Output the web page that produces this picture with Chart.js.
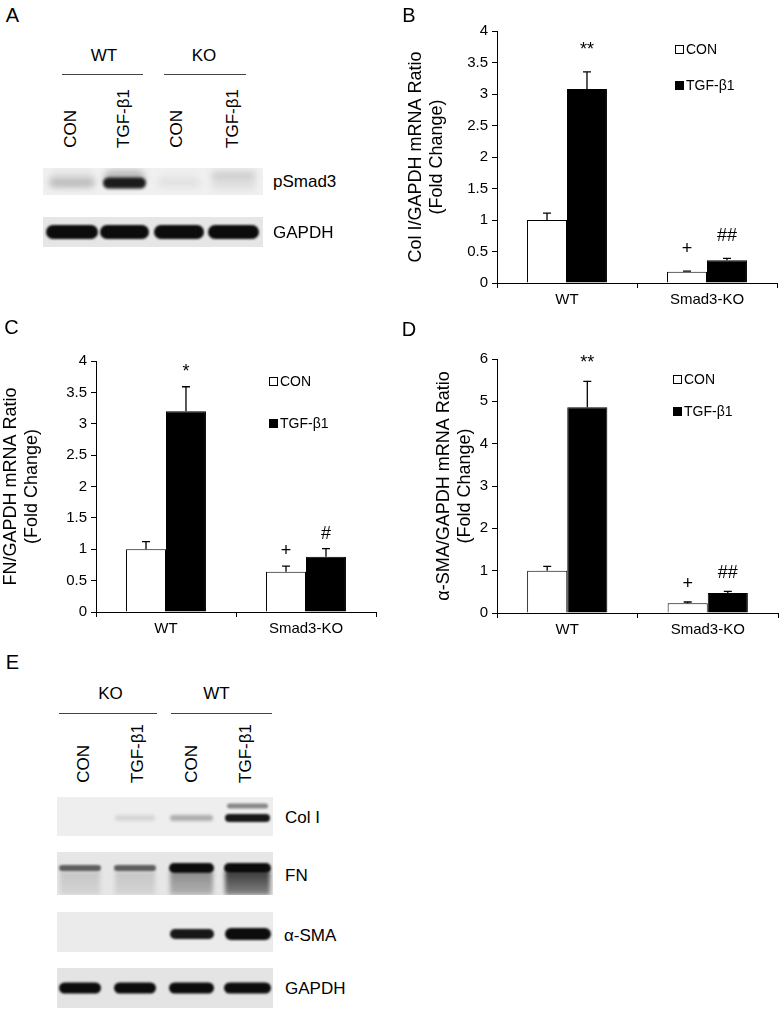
<!DOCTYPE html>
<html>
<head>
<meta charset="utf-8">
<title>Smad3 / TGF-β1 figure</title>
<script src="https://cdn.jsdelivr.net/npm/chart.js@4.4.1/dist/chart.umd.min.js"></script>
<style>
  body { margin: 0; background: #fff; }
  #fig { position: relative; width: 784px; height: 1013px; overflow: hidden; background: #fff;
         font-family: "Liberation Sans", Arial, sans-serif; color: #000; }
  #fig canvas { position: absolute; }
  .t { position: absolute; white-space: nowrap; line-height: 1; }
  .v { position: absolute; white-space: nowrap; line-height: 1; writing-mode: vertical-rl; transform: rotate(180deg); }
  .rule { position: absolute; height: 0; border-top: 1.3px solid #444; }
  .key { position: absolute; display: flex; align-items: center; font-size: 14px; line-height: 1; transform: translateY(-50%); white-space: nowrap; }
  .key i { display: inline-block; width: 9px; height: 9px; box-sizing: border-box; border: 1.5px solid #000; margin-right: 2px; background: #fff; }
  .key i.fill { background: #000; }
</style>
</head>
<body>
<div id="fig">
  <canvas id="chartB" width="394" height="320" style="left:390px;top:0px;width:394px;height:320px"></canvas>
  <canvas id="chartC" width="390" height="335" style="left:0px;top:305px;width:390px;height:335px"></canvas>
  <canvas id="chartD" width="394" height="335" style="left:390px;top:305px;width:394px;height:335px"></canvas>
</div>
<script>
// ---- data ----
const groups = ['WT', 'Smad3-KO'];
const seriesNames = ['CON', 'TGF-β1'];

// B: Col I/GAPDH mRNA
const colICon = [1.0, 0.18];
const colIConErr = [0.11, 0.01];
const colITgf = [3.08, 0.36];
const colITgfErr = [0.27, 0.03];
const colIConMarks = ['', '+'];
const colITgfMarks = ['**', '##'];

// C: FN/GAPDH mRNA
const fnCon = [1.0, 0.64];
const fnConErr = [0.12, 0.09];
const fnTgf = [3.2, 0.88];
const fnTgfErr = [0.39, 0.13];
const fnConMarks = ['', '+'];
const fnTgfMarks = ['*', '#'];

// D: α-SMA/GAPDH mRNA
const smaCon = [1.0, 0.23];
const smaConErr = [0.1, 0.03];
const smaTgf = [4.86, 0.47];
const smaTgfErr = [0.61, 0.04];
const smaConMarks = ['', '+'];
const smaTgfMarks = ['**', '##'];

// western blot band strengths (0 = none, 1 = saturated)
const lanesA = ['CON', 'TGF-β1', 'CON', 'TGF-β1'];
const pSmad3Level = [0.2, 0.92, 0.05, 0.13];
const gapdhLevelA = [1, 1, 1, 1];

const lanesE = ['CON', 'TGF-β1', 'CON', 'TGF-β1'];
const colILevel = [0.0, 0.1, 0.28, 0.95];
const colIUpperLevel = [0.0, 0.0, 0.0, 0.45];
const fnLevel = [0.62, 0.62, 1, 1];
const fnSmearLevel = [0.14, 0.14, 0.42, 0.8];
const smaLevel = [0, 0, 0.95, 1];
const gapdhLevelE = [1, 1, 1, 1];

Chart.defaults.font.family = '"Liberation Sans", Arial, sans-serif';
Chart.defaults.color = '#000';

const fig = document.getElementById('fig');

function text(str, x, y, size, align) {
    const d = document.createElement('div');
    d.className = 't';
    d.textContent = str;
    d.style.fontSize = size + 'px';
    d.style.left = x + 'px';
    d.style.top = y + 'px';
    d.style.transform = align === 'left' ? 'translateY(-50%)' : 'translate(-50%,-50%)';
    fig.appendChild(d);
}

function vtext(str, x, yBottom, size) {
    const d = document.createElement('div');
    d.className = 'v';
    d.textContent = str;
    d.style.fontSize = size + 'px';
    d.style.width = size + 'px';
    d.style.left = (x - size / 2) + 'px';
    d.style.bottom = (1013 - yBottom) + 'px';
    fig.appendChild(d);
}

function rule(x0, x1, y) {
    const d = document.createElement('div');
    d.className = 'rule';
    d.style.left = x0 + 'px';
    d.style.width = (x1 - x0) + 'px';
    d.style.top = y + 'px';
    fig.appendChild(d);
}

function key(x, y, filled, label) {
    const d = document.createElement('div');
    d.className = 'key';
    d.style.left = x + 'px';
    d.style.top = y + 'px';
    d.innerHTML = '<i class="' + (filled ? 'fill' : '') + '"></i>' + label;
    fig.appendChild(d);
}

// Error bars and significance marks
const errorBars = {
    id: 'errorBars',
    afterDatasetsDraw(chart, args, opts) {
        const ctx = chart.ctx;
        const y = chart.scales.y;
        ctx.save();
        ctx.strokeStyle = '#000';
        ctx.fillStyle = '#000';
        ctx.lineWidth = 1.3;
        ctx.font = '18px "Liberation Sans", Arial, sans-serif';
        ctx.textAlign = 'center';
        ctx.textBaseline = 'middle';
        chart.data.datasets.forEach((ds, i) => {
            chart.getDatasetMeta(i).data.forEach((bar, j) => {
                const top = y.getPixelForValue(ds.data[j] + ds.err[j]);
                ctx.beginPath();
                ctx.moveTo(bar.x, bar.y);
                ctx.lineTo(bar.x, top);
                ctx.moveTo(bar.x - 4, top);
                ctx.lineTo(bar.x + 4, top);
                ctx.stroke();
                if (ds.marks[j]) ctx.fillText(ds.marks[j], bar.x, top - opts.gap);
            });
        });
        ctx.restore();
    }
};

function makeChart(id, cfg) {
    const ctx = document.getElementById(id).getContext('2d');
    return new Chart(ctx, {
        type: 'bar',
        data: {
            labels: groups,
            datasets: [{
                label: seriesNames[0],
                data: cfg.con,
                err: cfg.conErr,
                marks: cfg.conMarks,
                backgroundColor: '#fff',
                borderColor: '#000',
                borderWidth: 1
            }, {
                label: seriesNames[1],
                data: cfg.tgf,
                err: cfg.tgfErr,
                marks: cfg.tgfMarks,
                backgroundColor: '#000',
                borderColor: '#000',
                borderWidth: 1
            }]
        },
        options: {
            responsive: false,
            animation: false,
            layout: { padding: cfg.padding },
            datasets: { bar: { barPercentage: 1, categoryPercentage: 0.571 } },
            plugins: {
                legend: { display: false },
                tooltip: { enabled: false },
                errorBars: { gap: cfg.gap }
            },
            scales: {
                x: {
                    grid: { drawOnChartArea: false, color: '#000', tickLength: 5, offset: true },
                    border: { color: '#000', width: 1 },
                    ticks: { font: { size: 15 }, color: '#000', padding: 3 },
                    afterFit: s => { s.height = cfg.xHeight; }
                },
                y: {
                    min: 0,
                    max: cfg.max,
                    grid: { drawOnChartArea: false, color: '#000', tickLength: 5 },
                    border: { color: '#000', width: 1 },
                    ticks: { stepSize: cfg.step, font: { size: 15 }, color: '#000', padding: 4, callback: v => String(v) },
                    title: {
                        display: true,
                        text: cfg.title,
                        color: '#000',
                        font: { size: 18, lineHeight: 1.15 },
                        padding: { top: cfg.titlePad, bottom: 0 }
                    },
                    afterFit: s => { s.width = cfg.yWidth; }
                }
            }
        },
        plugins: [errorBars]
    });
}

makeChart('chartB', {
    con: colICon, conErr: colIConErr, conMarks: colIConMarks,
    tgf: colITgf, tgfErr: colITgfErr, tgfMarks: colITgfMarks,
    max: 4, step: 0.5,
    title: ['Col I/GAPDH mRNA Ratio', '(Fold Change)'],
    padding: { top: 31, right: 7, bottom: 0, left: 0 },
    yWidth: 107, xHeight: 37, titlePad: 16, gap: 22
});

makeChart('chartC', {
    con: fnCon, conErr: fnConErr, conMarks: fnConMarks,
    tgf: fnTgf, tgfErr: fnTgfErr, tgfMarks: fnTgfMarks,
    max: 4, step: 0.5,
    title: ['FN/GAPDH mRNA Ratio', '(Fold Change)'],
    padding: { top: 56, right: 14, bottom: 0, left: 0 },
    yWidth: 96, xHeight: 28, titlePad: 1, gap: 15
});

makeChart('chartD', {
    con: smaCon, conErr: smaConErr, conMarks: smaConMarks,
    tgf: smaTgf, tgfErr: smaTgfErr, tgfMarks: smaTgfMarks,
    max: 6, step: 1,
    title: ['α-SMA/GAPDH mRNA Ratio', '(Fold Change)'],
    padding: { top: 54, right: 6, bottom: 0, left: 0 },
    yWidth: 107, xHeight: 27, titlePad: 44, gap: 18
});

// Legends
key(675, 49, false, seriesNames[0]);
key(675, 85, true, seriesNames[1]);
key(269, 381, false, seriesNames[0]);
key(269, 423, true, seriesNames[1]);
key(673, 379, false, seriesNames[0]);
key(673, 411, true, seriesNames[1]);

// ---- western blots ----
function blot(left, top, w, h, bg, draw) {
    const c = document.createElement('canvas');
    c.width = w;
    c.height = h;
    c.style.left = left + 'px';
    c.style.top = top + 'px';
    c.style.width = w + 'px';
    c.style.height = h + 'px';
    fig.appendChild(c);
    const ctx = c.getContext('2d');
    ctx.fillStyle = bg;
    ctx.fillRect(0, 0, w, h);
    draw(ctx);
}

function band(ctx, x0, x1, yc, h, level, blur) {
    if (level <= 0) return;
    ctx.save();
    ctx.filter = 'blur(' + blur + 'px)';
    ctx.fillStyle = 'rgba(12,12,12,' + Math.min(level, 1) + ')';
    ctx.beginPath();
    ctx.roundRect(x0, yc - h / 2, x1 - x0, h, h / 2);
    ctx.fill();
    ctx.restore();
}

function smear(ctx, x0, x1, y0, y1, level, blur) {
    if (level <= 0) return;
    ctx.save();
    ctx.filter = 'blur(' + blur + 'px)';
    const g = ctx.createLinearGradient(0, y0, 0, y1);
    g.addColorStop(0, 'rgba(12,12,12,' + level + ')');
    g.addColorStop(1, 'rgba(12,12,12,' + level * 0.55 + ')');
    ctx.fillStyle = g;
    ctx.fillRect(x0, y0, x1 - x0, y1 - y0);
    ctx.restore();
}

const laneXA = [[4, 54], [58, 105], [112, 160], [166, 215]];
blot(43, 168, 220, 27, '#f0f0f0', ctx => {
    laneXA.forEach(([a, b], i) => {
        const lv = pSmad3Level[i];
        if (i === 3) {
            band(ctx, a + 2, b - 2, 7, 9, lv, 3);
            band(ctx, a + 2, b - 2, 16, 12, lv * 0.5, 3);
        } else {
            band(ctx, a + 3, b - 3, 10, 16, lv * 0.25, 3);
            band(ctx, a + 2, b - 2, 15, lv > 0.5 ? 11 : 9, lv, lv > 0.5 ? 1.5 : 3);
        }
    });
});
blot(43, 217, 220, 30, '#e6e6e6', ctx => {
    laneXA.forEach(([a, b], i) => band(ctx, a - 1, b + 1, 15, 14, gapdhLevelA[i], 1.2));
});

const laneXE = [[3, 43], [58, 98], [113, 156], [168, 213]];
blot(57, 797, 216, 39, '#eeeeee', ctx => {
    laneXE.forEach(([a, b], i) => {
        band(ctx, a, b, 21, colILevel[i] > 0.5 ? 8 : 6, colILevel[i], colILevel[i] > 0.5 ? 1 : 1.5);
        band(ctx, a + 2, b - 2, 9, 5, colIUpperLevel[i], 1.2);
    });
});
blot(57, 852, 216, 43, '#e6e6e6', ctx => {
    laneXE.forEach(([a, b], i) => {
        smear(ctx, a, b, 19, 43, fnSmearLevel[i], 2);
        band(ctx, a - 1, b + 1, 16, fnLevel[i] > 0.9 ? 10 : 6, fnLevel[i], 1);
    });
});
blot(57, 912, 216, 40, '#ebebeb', ctx => {
    laneXE.forEach(([a, b], i) => band(ctx, a, b + 1, 22, i === 3 ? 12 : 10, smaLevel[i], 1.2));
});
blot(57, 968, 216, 40, '#e4e4e4', ctx => {
    laneXE.forEach(([a, b], i) => band(ctx, a - 1, b + 1, 20, 11, gapdhLevelE[i], 1));
});

// ---- text for panels A and E ----
text('A', 12.5, 15, 20);
text('B', 409, 15, 20);
text('C', 11.5, 326.5, 20);
text('D', 409, 328.5, 20);
text('E', 12.5, 661.5, 20);

text('WT', 104, 55, 17);
text('KO', 204, 55, 17);
rule(62, 143, 74);
rule(164, 246, 74);
[70.5, 123.5, 176, 232].forEach((x, i) => vtext(lanesA[i], x, 148, 17));
text('pSmad3', 273, 181, 17, 'left');
text('GAPDH', 273, 232, 17, 'left');

text('KO', 110.5, 693, 17);
text('WT', 216.5, 693, 17);
rule(59, 157, 713);
rule(171, 272, 713);
[83, 137.5, 191.5, 245.5].forEach((x, i) => vtext(lanesE[i], x, 783, 17));
text('Col I', 285, 817, 17, 'left');
text('FN', 285, 875, 17, 'left');
text('α-SMA', 284, 935, 17, 'left');
text('GAPDH', 285, 988, 17, 'left');
</script>
</body>
</html>
